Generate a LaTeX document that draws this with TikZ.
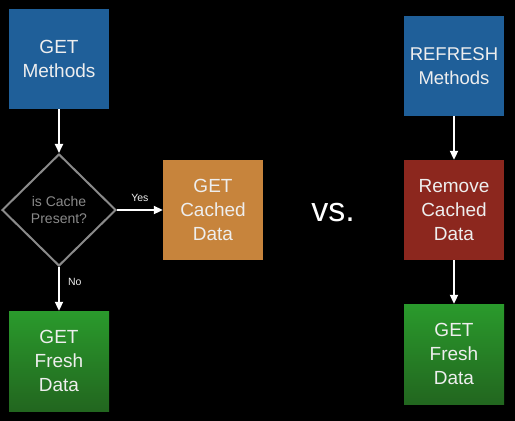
\documentclass[tikz,border=0pt]{standalone}
\usepackage{fontspec}
\setmainfont{Liberation Sans}
\usetikzlibrary{shapes.geometric,arrows.meta,positioning}
\definecolor{methodblue}{HTML}{1F5F99}
\definecolor{cacheorange}{HTML}{C7843C}
\definecolor{removered}{HTML}{8C271E}
\definecolor{freshtop}{HTML}{2A9A2C}
\definecolor{freshbot}{HTML}{22661F}
\definecolor{txtwhite}{HTML}{EEEEEE}
\definecolor{decgray}{HTML}{8A8A8A}
\begin{document}
\begin{tikzpicture}[x=1pt,y=-1pt,
        box/.style={minimum size=100pt,inner sep=0pt,align=center,text=txtwhite,
            font=\fontsize{19}{24}\selectfont},
        fresh/.style={box,top color=freshtop,bottom color=freshbot},
        flow/.style={white,line width=2pt,-{Triangle[width=8pt,length=9pt]}},
        lbl/.style={text=txtwhite,font=\fontsize{10.5}{12}\selectfont,inner sep=0pt}]
    \fill[black] (0,0) rectangle (515,421);
    \useasboundingbox (0,0) rectangle (515,421);
    % left: GET methods
    \node[box,fill=methodblue] (get) at (59,59) {GET\\Methods};
    \node[diamond,draw=decgray,line width=2pt,minimum width=114pt,minimum height=112pt,
        inner sep=0pt,align=center,text=decgray,font=\fontsize{14}{17}\selectfont]
        (cache) at (59,210) {is Cache\\Present?};
    \node[box,fill=cacheorange] (cached) at (213,210) {GET\\Cached\\Data};
    \node[fresh] (freshl) at (59,361) {GET\\Fresh\\Data};
    \draw[flow] (get) -- (cache);
    \draw[flow] (cache) -- (cached) node[lbl,midway,above=7pt] (yes) {Yes};
    \draw[flow] (cache) -- (freshl) node[lbl,pos=.35,right=8pt] (no) {No};
    % middle
    \node[text=white,font=\fontsize{34}{40}\selectfont] (vs) at (333,213) {vs.};
    % right: REFRESH methods
    \node[box,fill=methodblue,font=\fontsize{18.5}{24}\selectfont] (refresh) at (454,66) {REFRESH\\Methods};
    \node[box,fill=removered] (remove) at (454,210) {Remove\\Cached\\Data};
    \node[fresh] (freshr) at (454,354) {GET\\Fresh\\Data};
    \draw[flow] (refresh) -- (remove);
    \draw[flow] (remove) -- (freshr);
\end{tikzpicture}
\end{document}
